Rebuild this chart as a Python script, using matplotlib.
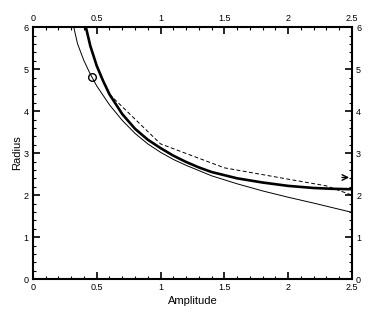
import matplotlib
matplotlib.use("Agg")
import matplotlib.pyplot as plt
from matplotlib.ticker import MultipleLocator

plt.rcParams['font.family'] = ['Liberation Sans', 'DejaVu Sans']

# Data
thick_x = [0.415, 0.45, 0.5, 0.55, 0.6, 0.7, 0.8, 0.9, 1.0, 1.1, 1.2, 1.3, 1.4,
           1.6, 1.8, 2.0, 2.2, 2.35, 2.5]
thick_y = [6.0, 5.55, 5.08, 4.72, 4.40, 3.93, 3.58, 3.32, 3.12, 2.94, 2.79, 2.66,
           2.55, 2.40, 2.30, 2.22, 2.17, 2.15, 2.14]
thin_x = [0.32, 0.35, 0.4, 0.45, 0.5, 0.6, 0.7, 0.8, 0.9, 1.0, 1.1, 1.2, 1.4,
          1.6, 1.8, 2.0, 2.2, 2.5]
thin_y = [6.0, 5.6, 5.2, 4.88, 4.6, 4.15, 3.78, 3.47, 3.22, 3.02, 2.85, 2.71,
          2.46, 2.27, 2.10, 1.95, 1.81, 1.59]
dash_x = [0.6, 1.0, 1.5, 2.0, 2.3, 2.5]
dash_y = [4.4, 3.22, 2.65, 2.38, 2.22, 2.0]
circle_x = [0.46]
circle_y = [4.82]
arrow_y = 2.42

fig = plt.figure(figsize=(3.74, 3.19), dpi=100)
ax = fig.add_axes([0.088, 0.125, 0.853, 0.79])

ax.plot(thin_x, thin_y, color='black', lw=0.7)
ax.plot(thick_x, thick_y, color='black', lw=1.9)
ax.plot(dash_x, dash_y, color='black', lw=0.7, ls=(0, (4, 2.5)))
ax.plot(circle_x, circle_y, 'o', mfc='none', mec='black', ms=5.5, mew=1.0)
ax.annotate('', xy=(2.5, arrow_y), xytext=(2.4, arrow_y),
            arrowprops=dict(arrowstyle='->', color='black', lw=1.0))

ax.set_xlim(0, 2.5)
ax.set_ylim(0, 6)
ax.xaxis.set_major_locator(MultipleLocator(0.5))
ax.xaxis.set_minor_locator(MultipleLocator(0.1))
ax.yaxis.set_major_locator(MultipleLocator(1))
ax.yaxis.set_minor_locator(MultipleLocator(0.2))
ax.set_xticks([0, 0.5, 1, 1.5, 2, 2.5])
ax.set_xticklabels(['0', '0.5', '1', '1.5', '2', '2.5'])
ax.set_yticks([0, 1, 2, 3, 4, 5, 6])

ax.tick_params(which='both', direction='in', top=True, right=True,
               labeltop=True, labelright=True, labelsize=6.5, pad=3)
ax.tick_params(which='major', length=5, width=1.2)
ax.tick_params(which='minor', length=2.5, width=0.8)
for s in ax.spines.values():
    s.set_linewidth(1.5)

ax.set_xlabel('Amplitude', fontsize=8, labelpad=3)
ax.set_ylabel('Radius', fontsize=8, labelpad=1)

fig.savefig('out.png', dpi=100)
